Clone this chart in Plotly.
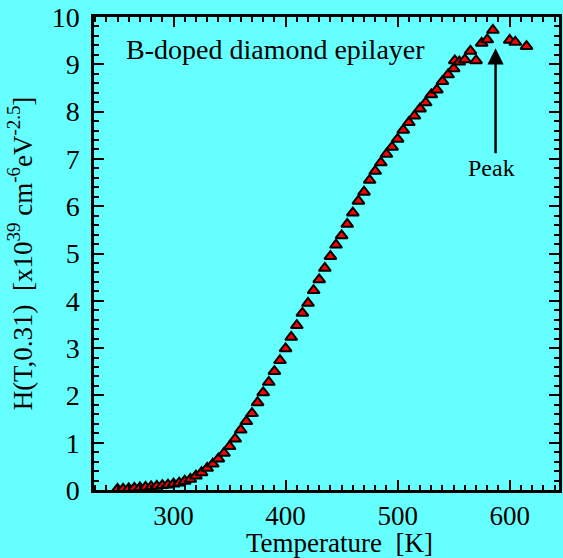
import plotly.graph_objects as go

temps = [250, 255, 260, 265, 270, 275, 280, 285, 290, 295,
         300, 305, 310, 315, 320, 325, 330, 335, 340, 345,
         350, 355, 360, 365, 370, 375, 380, 385, 390, 395,
         400, 405, 410, 415, 420, 425, 430, 435, 440, 445,
         450, 455, 460, 465, 470, 475, 480, 485, 490, 495,
         500, 505, 510, 515, 520, 525, 530, 535, 540, 545,
         550, 551, 555, 560, 565, 570, 575, 580, 585, 600, 605, 615]
h_vals = [0.02, 0.02, 0.03, 0.04, 0.05, 0.06, 0.07, 0.08, 0.10, 0.11,
          0.13, 0.15, 0.19, 0.23, 0.30, 0.37, 0.46, 0.55, 0.66, 0.78,
          0.92, 1.08, 1.27, 1.45, 1.62, 1.85, 2.06, 2.28, 2.51, 2.74,
          2.99, 3.23, 3.48, 3.74, 3.95, 4.22, 4.45, 4.69, 4.94, 5.18,
          5.38, 5.62, 5.86, 6.11, 6.30, 6.55, 6.74, 6.92, 7.10, 7.25,
          7.42, 7.61, 7.77, 7.91, 8.06, 8.19, 8.36, 8.46, 8.64, 8.78,
          8.91, 9.08, 9.05, 9.10, 9.28, 9.08, 9.45, 9.52, 9.72, 9.51, 9.47, 9.38]

x_ticks = [300, 400, 500, 600]
y_ticks = list(range(0, 11))

label_text = "B-doped diamond epilayer"
peak_text = "Peak"
x_title = "Temperature&nbsp;&nbsp;[K]"
y_title = "H(T,0.31)&nbsp;&nbsp;[x10<sup>39</sup> cm<sup>-6</sup>eV<sup>-2.5</sup>]"

FONT = "Liberation Serif, Times New Roman, serif"
BG = "#66FFFF"

fig = go.Figure()
fig.add_trace(go.Scatter(
    x=temps, y=h_vals, mode="markers",
    marker=dict(symbol="triangle-up", size=10.5, color="#FF0000",
                line=dict(color="black", width=2)),
    showlegend=False, cliponaxis=False, hoverinfo="skip",
))

axis_common = dict(
    showline=True, linecolor="black", linewidth=2.5, mirror="ticks",
    ticks="inside", ticklen=10, tickwidth=2, tickcolor="black",
    showgrid=False, zeroline=False, automargin=False,
)

fig.update_xaxes(
    range=[229, 644], tickvals=x_ticks,
    minor=dict(dtick=10, tick0=0, ticks="inside", ticklen=5, tickwidth=1.5, tickcolor="black"),
    tickfont=dict(family=FONT, size=27, color="black"),
    ticklabelstandoff=0,
    **axis_common,
)
fig.update_yaxes(
    range=[0, 10], tickvals=y_ticks,
    minor=dict(dtick=0.2, tick0=0, ticks="inside", ticklen=5, tickwidth=1.5, tickcolor="black"),
    title=dict(text=y_title, font=dict(family=FONT, size=27, color="black"), standoff=12),
    tickfont=dict(family=FONT, size=28, color="black"),
    ticklabelstandoff=6,
    **axis_common,
)

# x-axis title placed as paper annotation (slightly right of centre, as in the reference)
fig.add_annotation(x=0.529, y=-0.113, xref="paper", yref="paper", text=x_title,
                   showarrow=False, xanchor="center", yanchor="middle",
                   font=dict(family=FONT, size=27, color="black"))

fig.add_annotation(x=256, y=9.32, xref="x", yref="y", text=label_text,
                   showarrow=False, xanchor="left", yanchor="middle",
                   font=dict(family=FONT, size=28, color="black"))

fig.add_annotation(x=587.4, y=9.34, ax=587.4, ay=7.09, xref="x", yref="y",
                   axref="x", ayref="y", text="", showarrow=True,
                   arrowhead=2, arrowsize=1.3, arrowwidth=2.5, arrowcolor="black")
fig.add_annotation(x=583.5, y=6.8, xref="x", yref="y", text=peak_text,
                   showarrow=False, font=dict(family=FONT, size=24, color="black"))

fig.update_layout(
    width=563, height=558,
    margin=dict(l=94, r=4, t=17, b=68),
    paper_bgcolor=BG, plot_bgcolor=BG,
    font=dict(family=FONT, color="black"),
)

fig.write_html(
    "out.html",
    config={"displayModeBar": False},
    post_script="document.body.style.margin='0';document.body.style.background='" + BG + "';",
)
